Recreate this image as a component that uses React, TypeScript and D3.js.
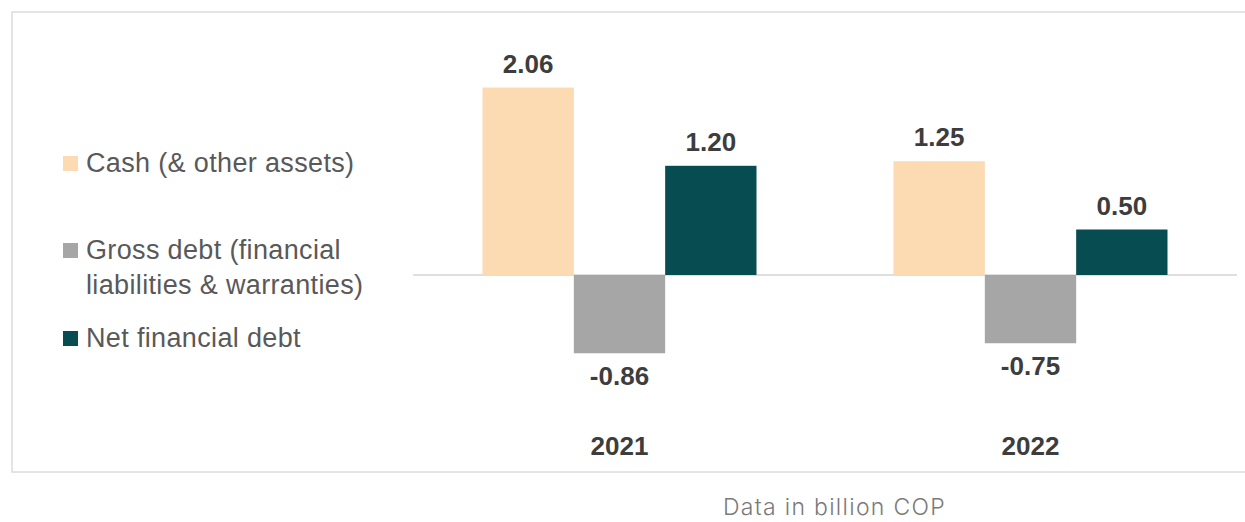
import React from "react";
import * as d3 from "d3";

const years = ["2021", "2022"];
const seriesNames = ["Cash (& other assets)", "Gross debt (financial liabilities & warranties)", "Net financial debt"];
const legendLines = [["Cash (& other assets)"], ["Gross debt (financial", "liabilities & warranties)"], ["Net financial debt"]];
const cashValues = [2.06, 1.25];
const grossDebtValues = [-0.86, -0.75];
const netDebtValues = [1.2, 0.5];
const colors = ["#FCDAB2", "#A6A6A6", "#064C51"];
const footnote = "Data in billion COP";

const W = 1245;
const H = 522;

export default function App() {
  const series = [cashValues, grossDebtValues, netDebtValues];
  const x = d3.scaleBand<string>().domain(years).range([414, 1236]).paddingInner(1 / 3).paddingOuter(1 / 6);
  const x1 = d3.scaleBand<number>().domain([0, 1, 2]).range([0, x.bandwidth()]);
  const y = d3.scaleLinear().domain([-1, 2.5]).range([366, 47.5]);
  const fmt = (v: number) => d3.format(".2f")(v).replace("\u2212", "-");
  const legendY = [163, 250, 338];

  return (
    <svg width={W} height={H} style={{ position: "absolute", left: 0, top: 0, background: "#fff" }}>
      <rect x={12} y={12} width={1250} height={460} fill="#fff" stroke="#dcdcdc" strokeWidth={1.5} />
      <line x1={413} x2={1237} y1={y(0)} y2={y(0)} stroke="#bfbfbf" strokeWidth={1.2} />
      {years.map((yr, i) => (
        <g key={yr} transform={`translate(${x(yr)},0)`}>
          {series.map((vals, s) => {
            const v = vals[i];
            const top = y(Math.max(0, v));
            const bot = y(Math.min(0, v));
            const cx = (x1(s) as number) + x1.bandwidth() / 2;
            return (
              <g key={s}>
                <rect x={x1(s)} y={top} width={x1.bandwidth()} height={bot - top} fill={colors[s]} />
                <text
                  x={cx}
                  y={v >= 0 ? top - 15 : bot + 32}
                  textAnchor="middle"
                  fontFamily="Liberation Sans, Arial, sans-serif"
                  fontWeight="bold"
                  fontSize={26}
                  fill="#3d3d3d"
                >
                  {fmt(v)}
                </text>
              </g>
            );
          })}
          <text
            x={x.bandwidth() / 2}
            y={455}
            textAnchor="middle"
            fontFamily="Liberation Sans, Arial, sans-serif"
            fontWeight="bold"
            fontSize={26}
            fill="#3d3d3d"
          >
            {yr}
          </text>
        </g>
      ))}
      {seriesNames.map((name, s) => (
        <g key={name}>
          <rect x={63} y={legendY[s] - 7} width={15} height={15} fill={colors[s]} />
          {legendLines[s].map((ln, k) => (
            <text
              key={k}
              x={86}
              y={legendY[s] + 9 + k * 35}
              fontFamily="Liberation Sans, Arial, sans-serif"
              fontSize={27}
              letterSpacing={0.35}
              fill="#595959"
            >
              {ln}
            </text>
          ))}
        </g>
      ))}
      <text x={723} y={515} fontFamily="Inter, sans-serif" fontWeight={300} fontSize={23} letterSpacing={1.3} fill="#7a7a7a">
        {footnote}
      </text>
    </svg>
  );
}
